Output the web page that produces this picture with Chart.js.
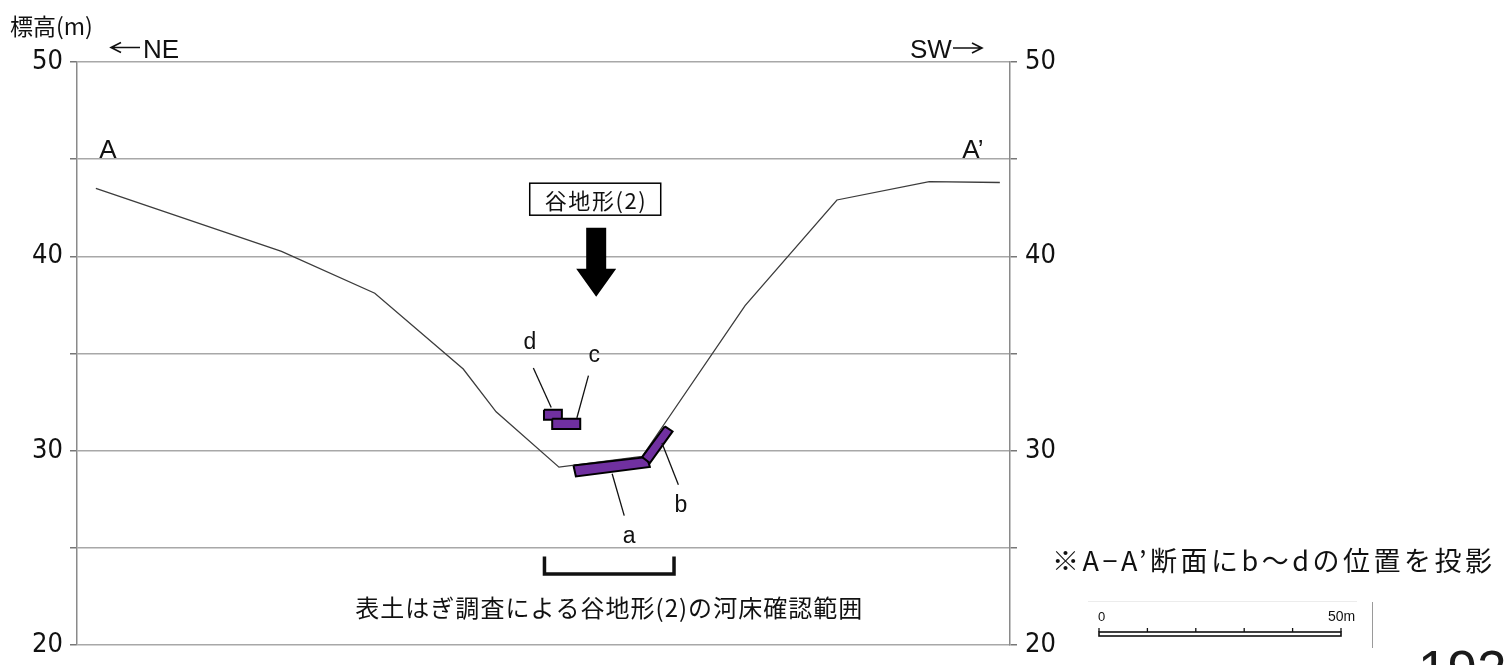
<!DOCTYPE html>
<html>
<head>
<meta charset="utf-8">
<script src="https://cdn.jsdelivr.net/npm/chart.js@4.4.1/dist/chart.umd.min.js"></script>
<style>
  html, body { margin: 0; padding: 0; background: #fff; overflow: hidden; }
  canvas { display: block; }
</style>
</head>
<body>
<canvas id="section" width="1506" height="665"></canvas>
<script>
// A–A' cross-section: horizontal distance (m) and ground elevation (m)
const distances  = [3.9, 42.3, 61.6, 79.9, 86.7, 99.7, 116.9, 138.2, 157.2, 176.3, 190.9];
const elevations = [43.5, 40.25, 38.1, 34.2, 32.0, 29.15, 29.7, 37.46, 42.9, 43.84, 43.8];

// Elevation axis ticks
const elevationTicks = [20, 25, 30, 35, 40, 45, 50];
const labelledTicks  = [20, 30, 40, 50];

// Riverbed outlines a–d, corners as [distance, elevation]
const bedA = [[102.7, 29.24], [117.9, 29.67], [118.5, 29.16], [103.2, 28.67]];
const bedB = [[121.6, 31.25], [123.2, 30.99], [118.5, 29.36], [116.9, 29.67]];
const bedC = [[98.3, 31.64], [104.1, 31.64], [104.1, 31.11], [98.3, 31.11]];
const bedD = [[96.6, 32.10], [100.3, 32.10], [100.3, 31.59], [96.6, 31.59]];

// Leader lines and letter positions for a–d
const bedLabels  = ['a', 'b', 'c', 'd'];
const labelAt    = [[114.2, 25.57], [124.9, 27.17], [107.0, 34.88], [93.7, 35.55]];
const leaderFrom = [[110.7, 28.81], [121.0, 30.39], [103.4, 31.68], [98.1, 32.22]];
const leaderTo   = [[113.2, 26.66], [124.4, 28.25], [105.8, 33.86], [94.4, 34.25]];

// Confirmed riverbed range (bracket) in metres
const rangeStart = 96.7, rangeEnd = 123.5;

const JP  = '"Noto Sans CJK JP", sans-serif';
const LAT = '"Liberation Sans", Arial, sans-serif';
const NUM = '"Liberation Sans Narrow", "DejaVu Sans Condensed", "Liberation Sans", sans-serif';
const PURPLE = '#7030a0';
const GRID = '#a8a8a8';

const toPoints = arr => arr.map(([x, y]) => ({ x, y }));
const closed = arr => toPoints(arr.concat([arr[0]]));

function bedDataset(corners, order) {
  return {
    data: closed(corners),
    showLine: true,
    fill: 'shape',
    backgroundColor: PURPLE,
    borderColor: '#000',
    borderWidth: 2,
    borderJoinStyle: 'miter',
    pointRadius: 0,
    tension: 0,
    order
  };
}

// Draws text, optionally spreading letters to cover a given width
function drawText(ctx, str, x, y, font, opt = {}) {
  ctx.save();
  ctx.font = font;
  ctx.fillStyle = opt.color || '#111';
  ctx.textBaseline = opt.baseline || 'middle';
  ctx.textAlign = opt.align || 'left';
  if (opt.width) {
    ctx.letterSpacing = '0px';
    const w = ctx.measureText(str).width;
    const n = [...str].length;
    const sp = (opt.width - w) / Math.max(n - 1, 1);
    ctx.letterSpacing = sp.toFixed(2) + 'px';
    if (ctx.textAlign === 'center') x += sp / 2;
  }
  ctx.fillText(str, x, y);
  ctx.restore();
}

// Thin horizontal arrow used in the direction labels
function drawDirArrow(ctx, x0, x1, y) {
  const dir = Math.sign(x1 - x0);
  ctx.save();
  ctx.strokeStyle = '#111';
  ctx.lineWidth = 1.6;
  ctx.beginPath();
  ctx.moveTo(x0, y); ctx.lineTo(x1, y);
  ctx.moveTo(x1 - dir * 10, y - 5); ctx.lineTo(x1, y); ctx.lineTo(x1 - dir * 10, y + 5);
  ctx.stroke();
  ctx.restore();
}

const annotations = {
  id: 'annotations',
  afterDatasetsDraw(chart) {
    const ctx = chart.ctx;
    const xs = chart.scales.x, ys = chart.scales.y;
    const px = v => xs.getPixelForValue(v);
    const py = v => ys.getPixelForValue(v);

    // Leader lines
    ctx.save();
    ctx.strokeStyle = '#111';
    ctx.lineWidth = 1.3;
    leaderFrom.forEach((p, i) => {
      const q = leaderTo[i];
      ctx.beginPath();
      ctx.moveTo(px(p[0]), py(p[1]));
      ctx.lineTo(px(q[0]), py(q[1]));
      ctx.stroke();
    });
    ctx.restore();

    bedLabels.forEach((t, i) => {
      drawText(ctx, t, px(labelAt[i][0]), py(labelAt[i][1]), '23px ' + LAT, { align: 'center' });
    });

    // Valley label box
    const bx = px(107.2), by = py(42.94);
    ctx.save();
    ctx.fillStyle = '#fff';
    ctx.strokeStyle = '#000';
    ctx.lineWidth = 1.5;
    ctx.fillRect(bx - 65.5, by - 16, 131, 32);
    ctx.strokeRect(bx - 65.5, by - 16, 131, 32);
    ctx.restore();
    drawText(ctx, '谷地形(2)', bx, by + 1, '22px ' + JP, { align: 'center', width: 101 });

    // Downward arrow
    const ax = px(107.4), aTop = py(41.47), aHead = py(39.36), aTip = py(37.92);
    ctx.save();
    ctx.fillStyle = '#000';
    ctx.beginPath();
    ctx.moveTo(ax - 10, aTop);
    ctx.lineTo(ax + 10, aTop);
    ctx.lineTo(ax + 10, aHead);
    ctx.lineTo(ax + 20, aHead);
    ctx.lineTo(ax, aTip);
    ctx.lineTo(ax - 20, aHead);
    ctx.lineTo(ax - 10, aHead);
    ctx.closePath();
    ctx.fill();
    ctx.restore();

    // Bracket for the confirmed riverbed range
    const l = px(rangeStart), r = px(rangeEnd), t = py(24.55), b = py(23.65);
    ctx.save();
    ctx.strokeStyle = '#111';
    ctx.lineWidth = 3.5;
    ctx.lineJoin = 'miter';
    ctx.beginPath();
    ctx.moveTo(l, t);
    ctx.lineTo(l, b);
    ctx.lineTo(r, b);
    ctx.lineTo(r, t);
    ctx.stroke();
    ctx.restore();
    drawText(ctx, '表土はぎ調査による谷地形(2)の河床確認範囲', px(110.0), py(21.92),
      '24px ' + JP, { align: 'center', width: 507 });

    // Section end labels and directions
    drawText(ctx, 'A', px(3.9) + 12, py(45) - 1, '26px ' + LAT, { align: 'center', baseline: 'alphabetic' });
    drawText(ctx, 'A’', px(190.9) - 27, py(45) - 1, '26px ' + LAT, { align: 'center', baseline: 'alphabetic' });
    drawDirArrow(ctx, 140, 111, 47.5);
    drawText(ctx, 'NE', 143, 57.5, '26px ' + LAT, { baseline: 'alphabetic' });
    drawText(ctx, 'SW', 910, 58, '26px ' + LAT, { baseline: 'alphabetic' });
    drawDirArrow(ctx, 953, 982, 48);
    drawText(ctx, '標高(m)', 10, 26, '23px ' + JP);
  },
  afterDraw(chart) {
    const ctx = chart.ctx;
    drawText(ctx, '※A−A’断面にb〜dの位置を投影', 1052, 561, '27px ' + JP, { width: 440 });

    // Scale bar 0–50 m
    const x0 = 1099, x1 = 1341;
    ctx.save();
    ctx.strokeStyle = '#ececec';
    ctx.lineWidth = 1;
    ctx.beginPath(); ctx.moveTo(1088, 601.5); ctx.lineTo(1357, 601.5); ctx.stroke();
    ctx.strokeStyle = '#111';
    ctx.lineWidth = 1.6;
    ctx.strokeRect(x0, 632, x1 - x0, 4);
    ctx.lineWidth = 1.3;
    for (let i = 0; i <= 5; i++) {
      const tx = x0 + (x1 - x0) * i / 5;
      ctx.beginPath(); ctx.moveTo(tx, 628); ctx.lineTo(tx, 632); ctx.stroke();
    }
    ctx.strokeStyle = '#9a9a9a';
    ctx.lineWidth = 1;
    ctx.beginPath(); ctx.moveTo(1372.5, 602); ctx.lineTo(1372.5, 648); ctx.stroke();
    ctx.restore();
    drawText(ctx, '0', x0 - 1, 617, '13px ' + LAT);
    drawText(ctx, '50m', 1328, 617, '14px ' + LAT);
    drawText(ctx, '192', 1418, 688, '53px ' + LAT, { baseline: 'alphabetic', color: '#1a1a1a' });
  }
};

const axisTicks = {
  min: 20, max: 50, stepSize: 5,
  color: '#111',
  font: { family: NUM, size: 27 },
  callback: v => (labelledTicks.includes(v) ? String(v) : '')
};

// Fixed axis width, no extra room reserved for the end labels
const fitAxis = w => s => { s.width = w; s.paddingTop = 0; s.paddingBottom = 0; };

new Chart(document.getElementById('section'), {
  type: 'scatter',
  data: {
    datasets: [
      bedDataset(bedA, 1),
      bedDataset(bedB, 0),
      bedDataset(bedC, 2),
      bedDataset(bedD, 3),
      {
        data: distances.map((d, i) => ({ x: d, y: elevations[i] })),
        showLine: true,
        fill: false,
        borderColor: '#3c3c3c',
        borderWidth: 1.3,
        pointRadius: 0,
        tension: 0,
        order: 10
      }
    ]
  },
  options: {
    responsive: false,
    animation: false,
    devicePixelRatio: 1,
    layout: { padding: { left: 0, right: 436, top: 62, bottom: 20 } },
    plugins: { legend: { display: false }, tooltip: { enabled: false } },
    events: [],
    scales: {
      x: { type: 'linear', min: 0, max: 193, display: false },
      y: {
        type: 'linear', position: 'left', min: 20, max: 50,
        afterBuildTicks: s => { s.ticks = elevationTicks.map(v => ({ value: v })); },
        afterFit: fitAxis(77),
        grid: { color: GRID, lineWidth: 1.5, tickLength: 7, tickColor: '#777' },
        border: { color: '#8a8a8a', width: 1.5 },
        ticks: { ...axisTicks, padding: 7 }
      },
      y2: {
        type: 'linear', position: 'right', min: 20, max: 50,
        afterBuildTicks: s => { s.ticks = elevationTicks.map(v => ({ value: v })); },
        afterFit: fitAxis(60),
        grid: { drawOnChartArea: false, tickLength: 7, tickColor: '#777', lineWidth: 1.5 },
        border: { color: '#8a8a8a', width: 1.5 },
        ticks: { ...axisTicks, padding: 8 }
      }
    }
  },
  plugins: [annotations]
});
</script>
</body>
</html>
